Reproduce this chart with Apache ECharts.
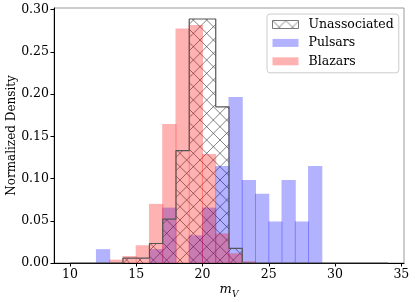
<!DOCTYPE html>
<html><head><meta charset="utf-8">
<script src="https://cdn.jsdelivr.net/npm/echarts@6/dist/echarts.min.js"></script>
<style>html,body{margin:0;padding:0;background:#fff}#c{width:415px;height:302px}</style>
</head><body><div id="c"></div>
<script>
// Bin left edges (bin width 1)
const binLeft = [10,11,12,13,14,15,16,17,18,19,20,21,22,23,24,25,26,27,28,29,30,31,32,33];
const binWidth = 1;
const unassociated = [0,0,0,0,0.0058,0.0058,0.0231,0.052,0.133,0.289,0.289,0.185,0.0173,0,0,0,0,0,0,0,0,0,0,0];
const pulsars = [0,0,0.0164,0,0,0,0.0164,0.0656,0,0.0328,0.0656,0.1148,0.1967,0.0984,0.0820,0.0492,0.0984,0.0492,0.1148,0,0,0,0,0];
const blazars = [0,0,0,0.004,0.0083,0.021,0.070,0.1645,0.2776,0.282,0.129,0.035,0.0115,0.002,0,0,0,0,0,0,0,0,0,0];
const xTicks = [10,15,20,25,30,35];
const yTicks = [0,0.05,0.10,0.15,0.20,0.25,0.30];
const seriesNames = ['Unassociated','Pulsars','Blazars'];

const FONT = 'DejaVu Serif';

function makeHatch(){
  const c = document.createElement('canvas');
  const S = 40, step = S/3;
  c.width = S; c.height = S;
  const g = c.getContext('2d');
  g.strokeStyle = 'rgba(80,80,80,0.9)';
  g.lineWidth = 0.8;
  for (let k = -6; k <= 6; k++) {
    const cc = k*step;
    g.beginPath(); g.moveTo(cc - S, -S); g.lineTo(cc + 2*S, 2*S); g.stroke();
    g.beginPath(); g.moveTo(cc - S, 2*S); g.lineTo(cc + 2*S, -S); g.stroke();
  }
  return c;
}
const hatch = {image: makeHatch(), repeat: 'repeat'};

function toBins(vals){ return binLeft.map((l,i)=>[l, l+binWidth, vals[i]]); }

function barRender(fill, overlap){
  return function(params, api){
    const lo = api.value(0), hi = api.value(1), h = api.value(2);
    if (!(h > 0)) return null;
    const p0 = api.coord([lo, h]), p1 = api.coord([hi, 0]);
    return {type:'rect', shape:{x:p0[0]-overlap, y:p0[1], width:p1[0]-p0[0]+2*overlap, height:p1[1]-p0[1]}, style:{fill: fill}};
  };
}

const outline = binLeft.map((l,i)=>[l, unassociated[i]]);
outline.push([binLeft[binLeft.length-1]+binWidth, unassociated[unassociated.length-1]]);

const chart = echarts.init(document.getElementById('c'), null, {renderer:'canvas'});
chart.setOption({
  animation: false,
  backgroundColor: '#fff',
  grid: {left:54, right:11, top:8, bottom:39, outerBoundsMode:'none', containLabel:false,
         show:true, borderColor:'#999', borderWidth:1, backgroundColor:'transparent'},
  legend: {
    orient:'vertical', left:267, top:14,
    data:[
      {name:'Unassociated', itemStyle:{color:hatch, borderColor:'#777', borderWidth:1}},
      {name:'Pulsars'},
      {name:'Blazars'}
    ],
    icon:'rect', itemWidth:26, itemHeight:8, itemGap:4.4,
    padding:[3.5,5,4.5,5],
    borderColor:'#ccc', borderWidth:1, borderRadius:3,
    backgroundColor:'rgba(255,255,255,0.8)',
    textStyle:{fontFamily:FONT, fontSize:12.5, color:'#000', lineHeight:14, padding:[0,0,0,5]}
  },
  xAxis: {
    type:'value', min:8.8, max:35.2,
    axisLine:{show:true, lineStyle:{color:'#000', width:1}},
    axisTick:{show:true, customValues:xTicks, length:3.5, lineStyle:{color:'#000'}},
    axisLabel:{customValues:xTicks, fontFamily:FONT, fontSize:12.5, color:'#000', margin:5},
    splitLine:{show:false},
    name:'{m|m}{v|V}', nameLocation:'middle', nameGap:20, nameMoveOverlap:false,
    nameTextStyle:{rich:{
      m:{fontFamily:FONT, fontStyle:'italic', fontSize:13, color:'#000', verticalAlign:'top', lineHeight:16},
      v:{fontFamily:FONT, fontStyle:'italic', fontSize:9, color:'#000', verticalAlign:'bottom', lineHeight:16, padding:[6,0,0,0]}
    }}
  },
  yAxis: {
    type:'value', min:0, max:0.302,
    axisLine:{show:true, lineStyle:{color:'#000', width:1}},
    axisTick:{show:true, customValues:yTicks, length:3.5, lineStyle:{color:'#000'}},
    axisLabel:{customValues:yTicks, fontFamily:FONT, fontSize:12.5, color:'#000', margin:5, formatter:v=>v.toFixed(2)},
    splitLine:{show:false},
    name:'Normalized Density', nameLocation:'middle', nameGap:36, nameMoveOverlap:false,
    nameTextStyle:{fontFamily:FONT, fontSize:12, color:'#000'}
  },
  series: [
    {name:'Unassociated', type:'custom', data:toBins(unassociated), encode:{x:[0,1], y:2},
     itemStyle:{color:hatch}, renderItem:barRender(hatch, 0), z:1},
    {name:'Pulsars', type:'custom', data:toBins(pulsars), encode:{x:[0,1], y:2},
     itemStyle:{color:'rgba(0,0,255,0.3)'}, renderItem:barRender('rgba(0,0,255,0.3)', 0.5), z:2},
    {name:'Blazars', type:'custom', data:toBins(blazars), encode:{x:[0,1], y:2},
     itemStyle:{color:'rgba(255,0,0,0.3)'}, renderItem:barRender('rgba(255,0,0,0.3)', 0.5), z:3},
    {name:'outline', type:'line', step:'end', data:outline, symbol:'none', silent:true,
     lineStyle:{color:'#555', width:1.2}, z:4}
  ]
});
</script></body></html>
